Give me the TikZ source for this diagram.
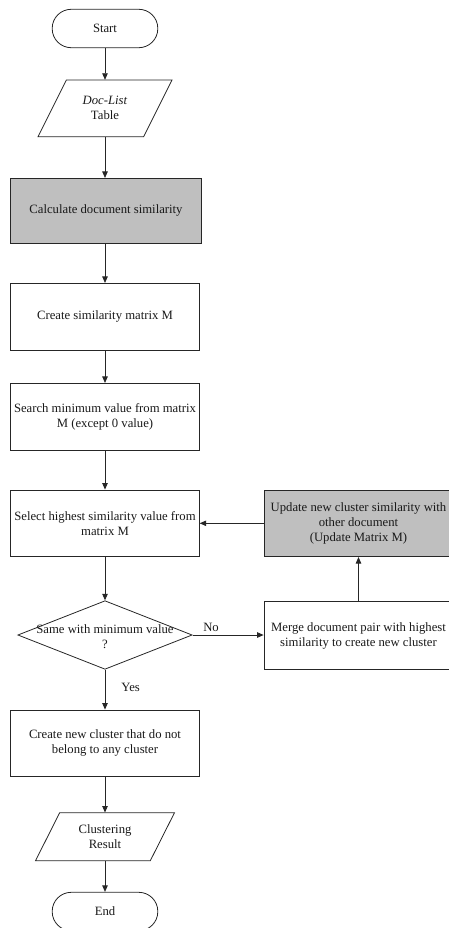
\documentclass[tikz,border=0pt]{standalone}
\usepackage{fontspec}
\setmainfont{Liberation Serif}
\usetikzlibrary{arrows.meta,shapes.geometric,calc}
\begin{document}
\begin{tikzpicture}[x=1pt,y=-1pt,
  every node/.style={font=\fontsize{12.7}{15}\selectfont, align=center, inner sep=0pt, text=black!90},
  shapeline/.style={draw=black!85, line width=0.8pt},
  box/.style={shapeline, minimum width=188.6pt, minimum height=66.7pt},
  graybox/.style={box, fill=black!25},
  term/.style={shapeline, rounded corners=19pt, minimum width=105.6pt, minimum height=38.4pt},
  dec/.style={shapeline, diamond, minimum width=174.4pt, minimum height=68.6pt},
  arr/.style={-{Triangle[length=6.5pt,width=5.5pt]}, line width=0.8pt, draw=black!85}
]
\useasboundingbox (0,0) rectangle (449,928);
\clip (0,0) rectangle (449,928);

\node[term] (start) at (105,28.5) {Start};

\node[minimum width=80pt, minimum height=56.7pt] (doclist) at (105,108.35) {\textit{Doc-List}\\Table};
\draw[shapeline] ($(doclist.center)+(-38.6,-28.35)$) -- ($(doclist.center)+(67,-28.35)$)
  -- ($(doclist.center)+(38.6,28.35)$) -- ($(doclist.center)+(-67,28.35)$) -- cycle;

\node[graybox, minimum width=190.6pt, minimum height=64.7pt] (calc) at (106,210.7) {Calculate document similarity};
\node[box] (matrix) at (105,316.7) {Create similarity matrix M};
\node[box] (search) at (105,416.7) {Search minimum value from matrix\\M (except 0 value)};
\node[box] (select) at (105,523.3) {Select highest similarity value from\\matrix M};
\node[graybox, minimum width=189pt] (update) at (358.5,523.3) {Update new cluster similarity with\\other document\\(Update Matrix M)};
\node[dec] (decide) at (105,635) {};
\node (dectext) at (105,636.5) {Same with minimum value\\?};
\node[box, minimum width=189pt, minimum height=67.6pt] (merge) at (358.5,635.5) {Merge document pair with highest\\similarity to create new cluster};
\node[box] (newcl) at (105,743.3) {Create new cluster that do not\\belong to any cluster};

\node[minimum width=80pt, minimum height=48pt] (result) at (105,836.7) {Clustering\\Result};
\draw[shapeline] ($(result.center)+(-45.3,-24)$) -- ($(result.center)+(69.5,-24)$)
  -- ($(result.center)+(45.3,24)$) -- ($(result.center)+(-69.5,24)$) -- cycle;

\node[term] (end) at (105,911.5) {End};

\draw[arr] (start.south) -- (doclist.north);
\draw[arr] (doclist.south) -- (doclist.south |- calc.north);
\draw[arr] (calc.south -| matrix.north) -- (matrix.north);
\draw[arr] (matrix.south) -- (search.north);
\draw[arr] (search.south) -- (select.north);
\draw[arr] (select.south) -- (decide.north);
\draw[arr] (decide.east) -- (decide.east -| merge.west) node[pos=0.26, above=3pt] (nolbl) {No};
\draw[arr] (merge.north) -- (update.south);
\draw[arr] (update.west) -- (select.east);
\draw[arr] (decide.south) -- (newcl.north) node[pos=0.45, right=16pt] (yeslbl) {Yes};
\draw[arr] (newcl.south) -- (result.north);
\draw[arr] (result.south) -- (end.north);
\end{tikzpicture}
\end{document}
